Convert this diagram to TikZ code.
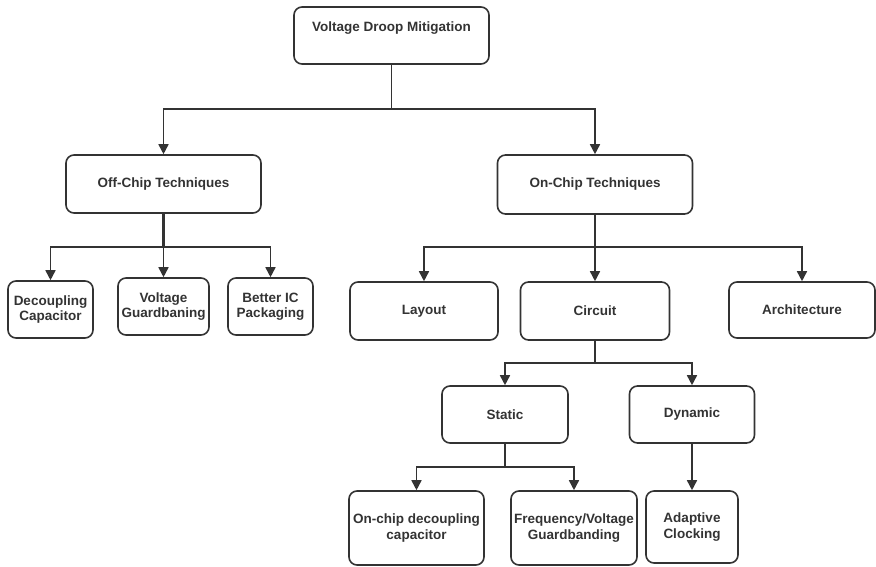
\documentclass[tikz,border=0pt]{standalone}
\usepackage{fontspec}
\setmainfont{Liberation Sans}
\usetikzlibrary{arrows.meta}
\definecolor{ink}{HTML}{333333}
\tikzset{
  boxfont/.style={font=\fontsize{13.5}{15.5}\selectfont\bfseries, text=ink},
  box/.style={draw=ink, line width=1.6pt, rounded corners=8pt, rectangle, align=center,
    boxfont, inner sep=1pt},
  conn/.style={draw=ink, line width=1.6pt},
  arr/.style={conn, -{Triangle[length=10pt,width=10pt]}}
}
\begin{document}
\begin{tikzpicture}[x=1pt,y=1pt]
\useasboundingbox (0,0) rectangle (876,-566);
% nodes
\node[box, minimum width=195pt, minimum height=57pt] (root) at (391.5,-35.5) {};
\node[boxfont] (roottxt) at (391.5,-28) {Voltage Droop Mitigation};
\node[box, minimum width=195pt, minimum height=58pt] (off) at (163.5,-184) {Off-Chip Techniques};
\node[box, minimum width=195pt, minimum height=59pt] (on) at (595,-184.5) {On-Chip Techniques};
\node[box, minimum width=85pt, minimum height=57pt] (dec) at (50.5,-309.5) {Decoupling\\Capacitor};
\node[box, minimum width=91pt, minimum height=57pt] (vg) at (163.5,-306.5) {Voltage\\Guardbaning};
\node[box, minimum width=85pt, minimum height=57pt] (bic) at (270.5,-306.5) {Better IC\\Packaging};
\node[box, minimum width=148pt, minimum height=58pt] (lay) at (424,-311) {Layout};
\node[box, minimum width=149pt, minimum height=58pt] (cir) at (595,-311) {Circuit};
\node[box, minimum width=146pt, minimum height=56pt] (arch) at (802,-310) {Architecture};
\node[box, minimum width=126pt, minimum height=57pt] (sta) at (505,-414.5) {Static};
\node[box, minimum width=125pt, minimum height=57pt] (dyn) at (692,-414.5) {Dynamic};
\node[box, minimum width=135pt, minimum height=74pt] (ocd) at (416.5,-528) {On-chip decoupling\\capacitor};
\node[box, minimum width=126pt, minimum height=74pt] (fvg) at (574,-528) {Frequency/Voltage\\Guardbanding};
\node[box, minimum width=92pt, minimum height=72pt] (ac) at (692,-527) {Adaptive\\Clocking};
% junctions
\coordinate (j1) at (391.5,-109);
\coordinate (j2) at (163.5,-247);
\coordinate (j3) at (595,-247);
\coordinate (j4) at (595,-363);
\coordinate (j5) at (505,-467);
% connectors
\draw[conn] (root.south) -- (j1);
\draw[arr] (j1) -| (off.north);
\draw[arr] (j1) -| (on.north);
\draw[conn, line width=3pt] (off.south) -- (j2);
\draw[arr] (j2) -| (dec.north);
\draw[arr] (j2) -- (vg.north);
\draw[arr] (j2) -| (bic.north);
\draw[conn, line width=2.2pt] (on.south) -- (j3);
\draw[arr] (j3) -| (lay.north);
\draw[arr] (j3) -- (cir.north);
\draw[arr] (j3) -| (arch.north);
\draw[conn] (cir.south) -- (j4);
\draw[arr] (j4) -| (sta.north);
\draw[arr] (j4) -| (dyn.north);
\draw[conn] (sta.south) -- (j5);
\draw[arr] (j5) -| (ocd.north);
\draw[arr] (j5) -| (fvg.north);
\draw[arr] (dyn.south) -- (ac.north);
\end{tikzpicture}
\end{document}
